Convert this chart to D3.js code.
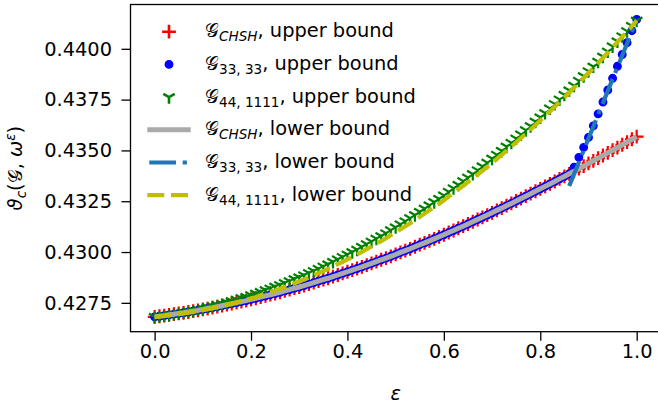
<!DOCTYPE html>
<html>
<head>
<meta charset="utf-8">
<script src="https://cdn.jsdelivr.net/npm/d3@7"></script>
<style>
  body { margin: 0; background: #fff; }
  svg { display: block; font-family: "DejaVu Sans", sans-serif; }
</style>
</head>
<body>
<svg id="chart" width="658" height="405"></svg>
<script>
// noise parameter
const eps = [0.00,0.01,0.02,0.03,0.04,0.05,0.06,0.07,0.08,0.09,0.10,0.11,0.12,0.13,0.14,0.15,0.16,0.17,0.18,0.19,
  0.20,0.21,0.22,0.23,0.24,0.25,0.26,0.27,0.28,0.29,0.30,0.31,0.32,0.33,0.34,0.35,0.36,0.37,0.38,0.39,
  0.40,0.41,0.42,0.43,0.44,0.45,0.46,0.47,0.48,0.49,0.50,0.51,0.52,0.53,0.54,0.55,0.56,0.57,0.58,0.59,
  0.60,0.61,0.62,0.63,0.64,0.65,0.66,0.67,0.68,0.69,0.70,0.71,0.72,0.73,0.74,0.75,0.76,0.77,0.78,0.79,
  0.80,0.81,0.82,0.83,0.84,0.85,0.86,0.87,0.88,0.89,0.90,0.91,0.92,0.93,0.94,0.95,0.96,0.97,0.98,0.99,1.00];

const chshUpper = [0.42681,0.42684,0.42687,0.42691,0.42694,0.42698,0.42701,0.42705,0.42709,0.42713,
  0.42718,0.42722,0.42726,0.42731,0.42736,0.42741,0.42746,0.42751,0.42756,0.42761,
  0.42767,0.42772,0.42778,0.42784,0.42790,0.42796,0.42802,0.42809,0.42815,0.42822,
  0.42828,0.42835,0.42842,0.42849,0.42857,0.42864,0.42871,0.42879,0.42887,0.42895,
  0.42903,0.42911,0.42919,0.42927,0.42936,0.42944,0.42953,0.42962,0.42970,0.42979,
  0.42988,0.42998,0.43007,0.43016,0.43026,0.43036,0.43045,0.43055,0.43065,0.43075,
  0.43085,0.43096,0.43106,0.43117,0.43127,0.43138,0.43149,0.43160,0.43171,0.43182,
  0.43193,0.43205,0.43216,0.43228,0.43239,0.43251,0.43263,0.43275,0.43287,0.43299,
  0.43311,0.43323,0.43335,0.43347,0.43360,0.43372,0.43385,0.43397,0.43410,0.43423,
  0.43436,0.43449,0.43462,0.43475,0.43488,0.43501,0.43514,0.43528,0.43541,0.43555,0.43568];

const g33Upper = [0.42681,0.42684,0.42687,0.42691,0.42694,0.42698,0.42701,0.42705,0.42709,0.42713,
  0.42718,0.42722,0.42726,0.42731,0.42736,0.42741,0.42746,0.42751,0.42756,0.42761,
  0.42767,0.42772,0.42778,0.42784,0.42790,0.42796,0.42802,0.42809,0.42815,0.42822,
  0.42828,0.42835,0.42842,0.42849,0.42857,0.42864,0.42871,0.42879,0.42887,0.42895,
  0.42903,0.42911,0.42919,0.42927,0.42936,0.42944,0.42953,0.42962,0.42970,0.42979,
  0.42988,0.42998,0.43007,0.43016,0.43026,0.43036,0.43045,0.43055,0.43065,0.43075,
  0.43085,0.43096,0.43106,0.43117,0.43127,0.43138,0.43149,0.43160,0.43171,0.43182,
  0.43193,0.43205,0.43216,0.43228,0.43239,0.43251,0.43263,0.43275,0.43287,0.43299,
  0.43311,0.43323,0.43335,0.43347,0.43360,0.43372,0.43385,0.43417,0.43466,0.43515,
  0.43564,0.43621,0.43680,0.43738,0.43797,0.43855,0.43914,0.43972,0.44030,0.44089,0.44145];

const g44Upper = [0.42681,0.42684,0.42688,0.42691,0.42695,0.42699,0.42704,0.42709,0.42712,0.42718,
  0.42723,0.42729,0.42735,0.42740,0.42746,0.42753,0.42759,0.42766,0.42774,0.42780,
  0.42788,0.42796,0.42804,0.42813,0.42821,0.42830,0.42838,0.42848,0.42857,0.42867,
  0.42876,0.42886,0.42897,0.42907,0.42918,0.42929,0.42940,0.42952,0.42964,0.42976,
  0.42988,0.43000,0.43012,0.43026,0.43039,0.43052,0.43066,0.43079,0.43093,0.43108,
  0.43122,0.43137,0.43152,0.43167,0.43182,0.43198,0.43214,0.43230,0.43246,0.43262,
  0.43279,0.43297,0.43314,0.43331,0.43349,0.43367,0.43384,0.43403,0.43422,0.43440,
  0.43460,0.43479,0.43498,0.43519,0.43538,0.43559,0.43579,0.43600,0.43620,0.43642,
  0.43663,0.43684,0.43707,0.43729,0.43751,0.43774,0.43796,0.43819,0.43843,0.43866,
  0.43890,0.43913,0.43937,0.43962,0.43987,0.44012,0.44037,0.44062,0.44087,0.44113,0.44139];

// lower bounds
const chshLower = chshUpper; // both bounds coincide for CHSH
const g44Lower = [0.42681,0.42683,0.42686,0.42688,0.42691,0.42694,0.42698,0.42702,0.42705,0.42710,
  0.42714,0.42719,0.42724,0.42729,0.42734,0.42740,0.42746,0.42752,0.42759,0.42765,
  0.42772,0.42779,0.42787,0.42795,0.42803,0.42811,0.42819,0.42828,0.42837,0.42846,
  0.42855,0.42865,0.42875,0.42885,0.42896,0.42906,0.42917,0.42929,0.42940,0.42952,
  0.42964,0.42976,0.42988,0.43001,0.43014,0.43027,0.43041,0.43054,0.43068,0.43083,
  0.43097,0.43112,0.43127,0.43142,0.43157,0.43173,0.43189,0.43205,0.43222,0.43238,
  0.43255,0.43273,0.43290,0.43308,0.43326,0.43344,0.43362,0.43381,0.43400,0.43419,
  0.43439,0.43458,0.43478,0.43499,0.43519,0.43540,0.43561,0.43582,0.43603,0.43625,
  0.43647,0.43669,0.43692,0.43715,0.43738,0.43761,0.43784,0.43808,0.43832,0.43856,
  0.43881,0.43905,0.43930,0.43955,0.43981,0.44007,0.44033,0.44059,0.44085,0.44112,0.44139];
const g33LowerEps = [0.86,0.87,0.88,0.89,0.90,0.91,0.92,0.93,0.94,0.95,0.96,0.97,0.98,0.99,1.00];
const g33Lower = [0.43325,0.43383,0.43442,0.43500,0.43559,0.43617,0.43675,0.43734,0.43792,0.43851,
  0.43909,0.43967,0.44026,0.44084,0.44143];

const xTicks = [0.0, 0.2, 0.4, 0.6, 0.8, 1.0];
const yTicks = [0.4275, 0.4300, 0.4325, 0.4350, 0.4375, 0.4400];

const svg = d3.select('#chart');
const axL = 130.5, axR = 660.8, axT = 4.5, axB = 331.7;

const x = d3.scaleLinear().domain([-0.05, 1.05]).range([axL, axR]);
const y = d3.scaleLinear().domain([0.42608, 0.44218]).range([axB, axT]);

const pts = (xs, ys) => xs.map((e, i) => [e, ys[i]]);
const line = d3.line().x(d => x(d[0])).y(d => y(d[1]));

const plusPath = 'M-6.9,0H6.9M0,-6.9V6.9';
const triPath = 'M0,0V6.6M0,0L-5.7,-3.3M0,0L5.7,-3.3';

const plot = svg.append('g');

// upper bounds (markers)
plot.append('g').selectAll('path').data(pts(eps, chshUpper)).join('path')
  .attr('d', plusPath)
  .attr('transform', d => `translate(${x(d[0])},${y(d[1])})`)
  .attr('stroke', '#ff0000').attr('stroke-width', 2.2).attr('fill', 'none');

plot.append('g').selectAll('circle').data(pts(eps, g33Upper)).join('circle')
  .attr('cx', d => x(d[0])).attr('cy', d => y(d[1])).attr('r', 3.8)
  .attr('fill', '#0000ff').attr('stroke', '#0000ff').attr('stroke-width', 1.3);

plot.append('g').selectAll('path').data(pts(eps, g44Upper)).join('path')
  .attr('d', triPath)
  .attr('transform', d => `translate(${x(d[0])},${y(d[1])})`)
  .attr('stroke', '#008000').attr('stroke-width', 2.2).attr('fill', 'none');

// lower bounds (lines)
plot.append('path').attr('d', line(pts(eps, chshLower)))
  .attr('fill', 'none').attr('stroke', '#aaaaaa').attr('stroke-width', 5);
plot.append('path').attr('d', line(pts(g33LowerEps, g33Lower)))
  .attr('fill', 'none').attr('stroke', '#1f77b4').attr('stroke-width', 4.2)
  .attr('stroke-dasharray', '26.7,6.7,4.2,6.7');
plot.append('path').attr('d', line(pts(eps, g44Lower)))
  .attr('fill', 'none').attr('stroke', '#bfbf00').attr('stroke-width', 4.2)
  .attr('stroke-dasharray', '17,6.7');

// axes
const fs = 19.4;
const xAxis = svg.append('g').attr('transform', `translate(0,${axB})`)
  .call(d3.axisBottom(x).tickValues(xTicks).tickFormat(d3.format('.1f'))
    .tickSize(9).tickPadding(4));
const yAxis = svg.append('g').attr('transform', `translate(${axL},0)`)
  .call(d3.axisLeft(y).tickValues(yTicks).tickFormat(d3.format('.4f'))
    .tickSize(9).tickPadding(9.5));
[xAxis, yAxis].forEach(g => {
  g.select('.domain').remove();
  g.selectAll('.tick line').attr('stroke', '#000').attr('stroke-width', 1.3);
  g.selectAll('.tick text').attr('fill', '#000').style('font-size', fs + 'px')
    .style('font-family', '"DejaVu Sans", sans-serif');
});

svg.append('rect').attr('x', axL).attr('y', axT)
  .attr('width', axR - axL).attr('height', axB - axT)
  .attr('fill', 'none').attr('stroke', '#000').attr('stroke-width', 1.3);

// axis labels
svg.append('text').attr('x', (axL + axR) / 2).attr('y', 400)
  .attr('text-anchor', 'middle').style('font-size', fs + 'px')
  .style('font-style', 'italic').text('ε');

const yl = svg.append('text').attr('transform', `translate(22,${(axT + axB) / 2}) rotate(-90)`)
  .attr('text-anchor', 'middle').style('font-size', fs + 'px');
yl.append('tspan').style('font-style', 'italic').text('ϑ');
yl.append('tspan').style('font-style', 'italic').style('font-size', '0.7em').attr('dy', 4).text('c');
yl.append('tspan').attr('dy', -4).text('(𝒢, ');
yl.append('tspan').style('font-style', 'italic').text('ω');
yl.append('tspan').style('font-style', 'italic').style('font-size', '0.7em').attr('dy', -7).text('ε');
yl.append('tspan').attr('dy', 7).text(')');

// legend
const legendRows = [
  { sub: 'CHSH', italic: true, kind: 'plus', label: ', upper bound' },
  { sub: '33, 33', italic: false, kind: 'circle', label: ', upper bound' },
  { sub: '44, 1111', italic: false, kind: 'tri', label: ', upper bound' },
  { sub: 'CHSH', italic: true, kind: 'gray', label: ', lower bound' },
  { sub: '33, 33', italic: false, kind: 'dashdot', label: ', lower bound' },
  { sub: '44, 1111', italic: false, kind: 'dashed', label: ', lower bound' }
];
const lg = svg.append('g');
legendRows.forEach((r, i) => {
  const cy = 31.7 + 32.7 * i;
  const cx = 169;
  if (r.kind === 'plus') {
    lg.append('path').attr('d', plusPath).attr('transform', `translate(${cx},${cy})`)
      .attr('stroke', '#ff0000').attr('stroke-width', 2.6).attr('fill', 'none');
  } else if (r.kind === 'circle') {
    lg.append('circle').attr('cx', cx).attr('cy', cy).attr('r', 3.8)
      .attr('fill', '#0000ff').attr('stroke', '#0000ff').attr('stroke-width', 1.3);
  } else if (r.kind === 'tri') {
    lg.append('path').attr('d', triPath).attr('transform', `translate(${cx},${cy})`)
      .attr('stroke', '#008000').attr('stroke-width', 2.6).attr('fill', 'none');
  } else {
    const st = {
      gray: ['#aaaaaa', 5, null, 147.3, 190.7],
      dashdot: ['#1f77b4', 4.2, '26.7,6.7,4.2,6.7', 149.3, 190.7],
      dashed: ['#bfbf00', 4.2, '17,6.7', 147.3, 190.7]
    }[r.kind];
    lg.append('line').attr('x1', st[3]).attr('x2', st[4]).attr('y1', cy).attr('y2', cy)
      .attr('stroke', st[0]).attr('stroke-width', st[1]).attr('stroke-dasharray', st[2]);
  }
  const t = lg.append('text').attr('x', 205).attr('y', cy + 5.6).style('font-size', fs + 'px');
  t.append('tspan').text('𝒢');
  t.append('tspan').attr('dy', 4).style('font-size', '0.7em')
    .style('font-style', r.italic ? 'italic' : 'normal').text(r.sub);
  t.append('tspan').attr('dy', -4).text(r.label);
});
</script>
</body>
</html>
